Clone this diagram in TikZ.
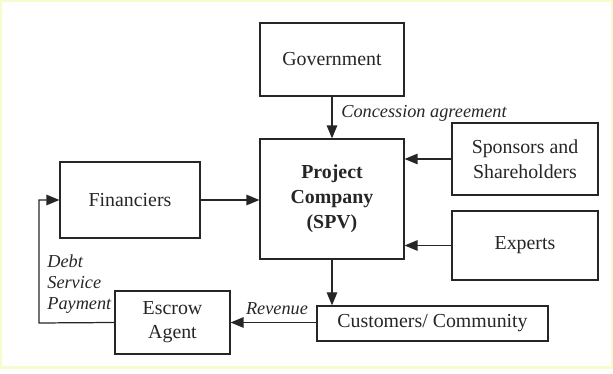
\documentclass[tikz,border=0pt]{standalone}
\usepackage{fontspec}
\setmainfont{Liberation Serif}
\usetikzlibrary{arrows.meta, positioning, calc}
\definecolor{cink}{HTML}{262626}
\definecolor{cframe}{HTML}{F6FCCB}
\tikzset{
  every picture/.style={font=\fontsize{11.3pt}{13.6pt}\selectfont, line width=0.7pt},
  box/.style={draw=cink, fill=white, align=center, inner sep=3pt, text=cink},
  arrow/.style={-{Triangle[length=2.6mm, width=2.1mm]}, draw=cink},
  flow/.style={font=\fontsize{10.4pt}{12.4pt}\selectfont\itshape, text=cink, inner sep=1pt},
}

\begin{document}
\begin{tikzpicture}[x=0.02cm, y=-0.02cm]
  % page and its thin frame
  \useasboundingbox (0,0) rectangle (613,374);
  \draw[cframe, line width=1.4pt] (0.7,0.7) rectangle (612.3,367.5);

  % parties
  \node[box, minimum width=2.88cm, minimum height=1.46cm] (gov) at (332,59.5) {Government};
  \node[box, minimum width=2.88cm, minimum height=2.4cm, font=\fontsize{11.3pt}{14.2pt}\selectfont\bfseries] (spv) at (332,199) {Project\\Company\\(SPV)};
  \node[box, minimum width=2.8cm, minimum height=1.52cm] (fin) at (130,200) {Financiers};
  \node[box, minimum width=2.92cm, minimum height=1.44cm, font=\fontsize{11.3pt}{14.4pt}\selectfont] (spons) at (525,159) {Sponsors and\\Shareholders};
  \node[box, minimum width=2.92cm, minimum height=1.38cm] (exp) at (525,245.5) {Experts};
  \node[box, minimum width=4.62cm, minimum height=0.7cm] (cust) at (432.5,323.5) {Customers/ Community};
  \node[box, minimum width=2.3cm, minimum height=1.26cm] (esc) at (172.5,322.5) {Escrow\\Agent};
  \coordinate (loop) at (39,323);

  % flows
  \draw[arrow] (gov.south) -- (spv.north);
  \draw[arrow] (spons.west) -- (spv.east |- spons.west);
  \draw[arrow] (exp.west) -- (spv.east |- exp.west);
  \draw[arrow] (fin.east) -- (spv.west |- fin.east);
  \draw[arrow] (spv.south) -- (spv.south |- cust.north);
  \draw[arrow] (cust.west |- esc.east) -- (esc.east);
  \draw[arrow] (esc.west) -- (loop) |- (fin.west);

  % labels
  \node[flow, anchor=west] (conc) at (339,113) {Concession agreement};
  \node[flow] (rev) at (277,309) {Revenue};
  \node[flow, align=left, anchor=west, font=\fontsize{10.4pt}{11.8pt}\selectfont\itshape] (debt) at (45,284) {Debt\\Service\\Payment};
\end{tikzpicture}
\end{document}
